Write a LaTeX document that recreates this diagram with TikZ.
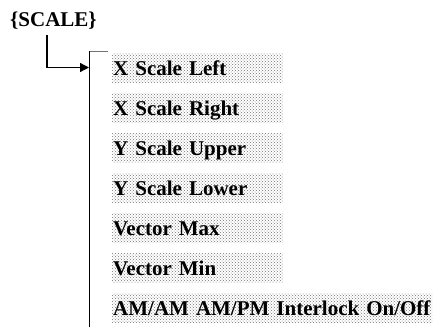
\documentclass[tikz,border=0pt]{standalone}
\usepackage{fontspec}
\setmainfont{Liberation Serif}
\usetikzlibrary{arrows.meta,patterns}
\begin{document}
\begin{tikzpicture}[x=1pt,y=1pt,
  itembox/.style={anchor=north west, pattern=crosshatch dots, pattern color=black!55,
    inner xsep=1pt, inner ysep=5.5pt, text height=16.5pt, text depth=1.5pt,
    align=left, font=\fontsize{21}{21}\selectfont\bfseries},
  conn/.style={line width=1.3pt},
]
\useasboundingbox (0,0) rectangle (441,-327);
\node[anchor=base west, inner sep=0pt, font=\fontsize{21}{21}\selectfont\bfseries] (scale) at (10,-26) {\{SCALE\}};
\node[itembox, text width=169pt] (i1) at (112,-53) {X Scale Left};
\node[itembox, text width=169pt] (i2) at (112,-93) {X Scale Right};
\node[itembox, text width=169pt] (i3) at (112,-133) {Y Scale Upper};
\node[itembox, text width=169pt] (i4) at (112,-173) {Y Scale Lower};
\node[itembox, text width=169pt] (i5) at (112,-213) {Vector Max};
\node[itembox, text width=169pt] (i6) at (112,-253) {Vector Min};
\node[itembox, text width=318pt] (i7) at (112,-293) {AM/AM AM/PM Interlock On/Off};
\coordinate (bartop) at (89.5,-51);
\coordinate (barbot) at (89.5,-327);
\coordinate (tick) at (108,-51);
\coordinate (drop) at (47,-35);
\coordinate (hit) at (89,-67.5);
\draw[conn] (barbot) -- (bartop);
\draw[black!55, line width=0.8pt] (bartop) -- (tick);
\draw[conn, -{Triangle[length=9pt,width=9pt]}] (drop) |- (hit);
\end{tikzpicture}
\end{document}
